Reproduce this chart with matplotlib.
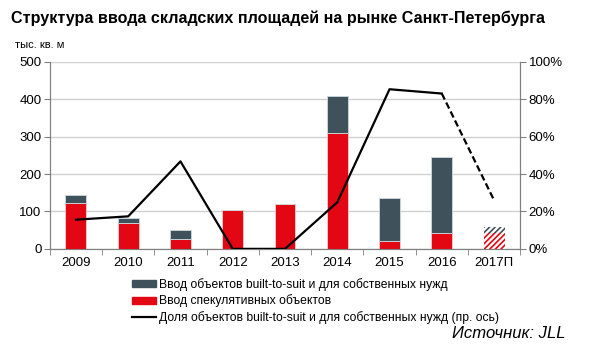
import numpy as np
import matplotlib.pyplot as plt
from matplotlib.patches import Patch
from matplotlib.lines import Line2D

plt.rcParams['font.family'] = ['Liberation Sans', 'DejaVu Sans']
plt.rcParams['hatch.linewidth'] = 1.2

years = ['2009', '2010', '2011', '2012', '2013', '2014', '2015', '2016', '2017П']
spec = [122, 69, 27, 103, 121, 309, 20, 42, 43]
bts = [21, 14, 24, 0, 0, 101, 117, 204, 16]
share = [15.6, 17.4, 46.8, 0, 0, 24.9, 85.4, 83.1, 26.0]

RED = '#e30613'
DARK = '#3f525c'

fig = plt.figure(figsize=(6, 3.54), dpi=100)
ax = fig.add_axes([0.083, 0.297, 0.784, 0.528])
ax2 = ax.twinx()

x = np.arange(len(years))
w = 0.4
n = len(years) - 1
ax.bar(x[:n], spec[:n], w, color=RED, edgecolor='#f0d0d0', linewidth=0.6, zorder=3)
ax.bar(x[:n], bts[:n], w, bottom=spec[:n], color=DARK, edgecolor='#d0d8dc',
       linewidth=0.6, zorder=3)
# прогноз - штриховка
ax.bar(x[n], spec[n], w, color='white', edgecolor=RED, hatch='//////', linewidth=0, zorder=3)
ax.bar(x[n], bts[n], w, bottom=spec[n], color='white', edgecolor=DARK, hatch='//////',
       linewidth=0, zorder=3)

ax2.plot(x[:n], share[:n], color='black', lw=1.6, zorder=4)
ax2.plot(x[n - 1:], share[n - 1:], color='black', lw=1.6, ls=(0, (3, 1.5)), zorder=4)

ax.set_xlim(-0.5, len(years) - 0.5)
ax.set_ylim(0, 500)
ax.set_yticks(range(0, 501, 100))
ax2.set_ylim(0, 100)
ax2.set_yticks(range(0, 101, 20))
ax2.set_yticklabels([f'{v}%' for v in range(0, 101, 20)])

ax.set_xticks(x)
ax.set_xticklabels(years)
ax.set_xticks(np.arange(-0.5, len(years)), minor=True)
ax.tick_params(axis='x', which='major', length=0, labelsize=9.5, pad=6)
ax.tick_params(axis='x', which='minor', length=4, color='#808080')
ax.tick_params(axis='y', labelsize=9.5, length=4, color='#808080', pad=2)
ax2.tick_params(axis='y', labelsize=9.5, length=4, color='#808080', pad=2)

ax.grid(axis='y', color='#d0d0d0', lw=1, zorder=0)
for a in (ax, ax2):
    a.spines['top'].set_visible(False)
    for s in ('left', 'right', 'bottom'):
        a.spines[s].set_color('#808080')

fig.text(0.018, 0.948, 'Структура ввода складских площадей на рынке Санкт-Петербурга',
         fontsize=11.6, fontweight='bold', va='center')
fig.text(0.025, 0.872, 'тыс. кв. м', fontsize=8, va='center')

handles = [Patch(color=DARK), Patch(color=RED), Line2D([], [], color='black', lw=1.6)]
labels = ['Ввод объектов built-to-suit и для собственных нужд',
          'Ввод спекулятивных объектов',
          'Доля объектов built-to-suit и для собственных нужд (пр. ось)']
fig.legend(handles, labels, loc='upper left', bbox_to_anchor=(0.22, 0.215),
           frameon=False, fontsize=8.7, handlelength=2.0, handleheight=0.5,
           handletextpad=0.2, labelspacing=0.3, borderaxespad=0, borderpad=0)

fig.text(0.942, 0.058, 'Источник: JLL', fontsize=12, style='italic', ha='right', va='center')

fig.savefig('out.png', dpi=100)
